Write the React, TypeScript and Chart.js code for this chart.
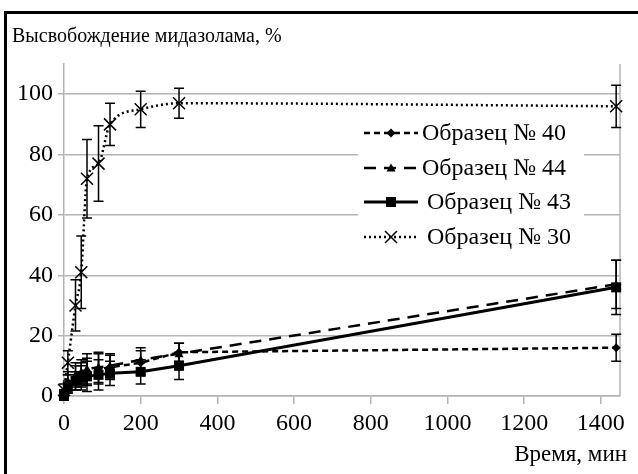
import React, { useEffect, useRef } from 'react';
import { Chart, registerables } from 'chart.js';

Chart.register(...registerables);

const times = [0, 10, 30, 45, 60, 90, 120, 200, 300, 1440];

const s40 = [1, 4, 6, 7, 8, 9, 9.5, 11, 14.5, 16];
const e40 = [1, 3, 4, 4, 4.5, 5, 4, 4, 3, 4.5];
const s44 = [1, 5, 7, 8, 9, 9.5, 10, 12, 14, 37];
const e44 = [1, 3, 4, 4, 5, 5, 4, 4, 3.5, 8];
const s43 = [0, 3, 5, 6, 6.5, 7, 7.5, 8, 10, 36];
const e43 = [1, 2, 3, 4, 5, 5, 4, 4, 4.5, 9];
const s30 = [2, 11, 30, 41, 72, 77, 90, 95, 97, 96];
const e30 = [2, 4, 8.5, 12, 13, 12.5, 7, 6, 5, 7];

const seriesNames = ['Образец № 40', 'Образец № 44', 'Образец № 43', 'Образец № 30'];
const titleText = 'Высвобождение мидазолама, %';
const xTitleText = 'Время, мин';
const xTickValues = [0, 200, 400, 600, 800, 1000, 1200, 1400];

const SERIF = "'Liberation Serif', 'Times New Roman', serif";

type Marker = 'diamond' | 'triangle' | 'square' | 'crossRot';

function drawMarker(ctx: CanvasRenderingContext2D, m: Marker, x: number, y: number, r: number) {
  ctx.save();
  ctx.fillStyle = '#000';
  ctx.strokeStyle = '#000';
  ctx.setLineDash([]);
  ctx.beginPath();
  if (m === 'diamond') {
    ctx.moveTo(x, y - r);
    ctx.lineTo(x + r, y);
    ctx.lineTo(x, y + r);
    ctx.lineTo(x - r, y);
    ctx.closePath();
    ctx.fill();
  } else if (m === 'triangle') {
    ctx.moveTo(x, y - r);
    ctx.lineTo(x + r, y + r * 0.8);
    ctx.lineTo(x - r, y + r * 0.8);
    ctx.closePath();
    ctx.fill();
  } else if (m === 'square') {
    ctx.rect(x - r, y - r, 2 * r, 2 * r);
    ctx.fill();
  } else {
    ctx.lineWidth = 1.5;
    ctx.moveTo(x - r, y - r);
    ctx.lineTo(x + r, y + r);
    ctx.moveTo(x + r, y - r);
    ctx.lineTo(x - r, y + r);
    ctx.stroke();
  }
  ctx.restore();
}

const styles: { marker: Marker; r: number; dash: number[]; width: number }[] = [
  { marker: 'diamond', r: 4.5, dash: [6, 4], width: 2.5 },
  { marker: 'triangle', r: 4.5, dash: [12, 8], width: 2.5 },
  { marker: 'square', r: 5, dash: [], width: 3 },
  { marker: 'crossRot', r: 6, dash: [2, 3], width: 2.5 },
];

const errors = [e40, e44, e43, e30];

export default function App() {
  const ref = useRef<HTMLCanvasElement | null>(null);

  useEffect(() => {
    if (!ref.current) return;

    const customPlugin = {
      id: 'custom',
      beforeDraw(chart: any) {
        const ctx = chart.ctx as CanvasRenderingContext2D;
        ctx.save();
        ctx.fillStyle = '#fff';
        ctx.fillRect(0, 0, chart.width, chart.height);
        ctx.restore();
      },
      afterDatasetsDraw(chart: any) {
        const ctx = chart.ctx as CanvasRenderingContext2D;
        const yScale = chart.scales.y;
        const area = chart.chartArea;
        ctx.save();
        ctx.strokeStyle = '#b4b4b4';
        ctx.lineWidth = 1.5;
        ctx.beginPath();
        ctx.moveTo(area.right, area.top);
        ctx.lineTo(area.right, area.bottom);
        ctx.stroke();
        ctx.restore();

        chart.data.datasets.forEach((ds: any, i: number) => {
          const meta = chart.getDatasetMeta(i);
          const err = errors[i];
          const st = styles[i];
          meta.data.forEach((el: any, j: number) => {
            const v = ds.data[j].y;
            const yt = yScale.getPixelForValue(v + err[j]);
            const yb = yScale.getPixelForValue(Math.max(0, v - err[j]));
            ctx.save();
            ctx.strokeStyle = '#000';
            ctx.lineWidth = 1.5;
            ctx.setLineDash([]);
            ctx.beginPath();
            ctx.moveTo(el.x, yt);
            ctx.lineTo(el.x, yb);
            ctx.moveTo(el.x - 5, yt);
            ctx.lineTo(el.x + 5, yt);
            ctx.moveTo(el.x - 5, yb);
            ctx.lineTo(el.x + 5, yb);
            ctx.stroke();
            ctx.restore();
            drawMarker(ctx, st.marker, el.x, el.y, st.r);
          });
        });

        const lx = 358, ly = 118, lw = 226, lh = 134;
        ctx.save();
        ctx.fillStyle = '#fff';
        ctx.fillRect(lx, ly, lw, lh);
        const rows = [133, 168, 202, 237];
        seriesNames.forEach((name, i) => {
          const st = styles[i];
          const y = rows[i];
          ctx.save();
          ctx.strokeStyle = '#000';
          ctx.lineWidth = st.width;
          ctx.setLineDash(st.dash);
          ctx.beginPath();
          ctx.moveTo(364, y);
          ctx.lineTo(418, y);
          ctx.stroke();
          ctx.restore();
          drawMarker(ctx, st.marker, 391, y, st.r);
          ctx.fillStyle = '#000';
          ctx.font = `24px ${SERIF}`;
          ctx.textBaseline = 'middle';
          ctx.textAlign = 'left';
          ctx.fillText(name, i >= 2 ? 427 : 422, y + 1);
        });
        ctx.restore();
      },
      afterDraw(chart: any) {
        const ctx = chart.ctx as CanvasRenderingContext2D;
        ctx.save();
        ctx.fillStyle = '#000';
        ctx.font = `20px ${SERIF}`;
        ctx.textBaseline = 'alphabetic';
        ctx.textAlign = 'left';
        ctx.fillText(titleText, 12, 42);
        ctx.font = `23px ${SERIF}`;
        ctx.textAlign = 'right';
        ctx.fillText(xTitleText, 627, 461);
        ctx.strokeStyle = '#000';
        ctx.lineWidth = 3;
        ctx.beginPath();
        ctx.moveTo(5.5, 480);
        ctx.lineTo(5.5, 12.5);
        ctx.lineTo(645, 12.5);
        ctx.stroke();
        ctx.restore();
      },
    };

    const mk = (vals: number[]) => vals.map((v, i) => ({ x: times[i], y: v }));

    const chart = new Chart(ref.current, {
      type: 'line',
      data: {
        datasets: [s40, s44, s43, s30].map((vals, i) => ({
          label: seriesNames[i],
          data: mk(vals),
          borderColor: '#000',
          backgroundColor: '#000',
          borderWidth: styles[i].width,
          borderDash: styles[i].dash,
          pointRadius: 0,
          fill: false,
          tension: i === 3 ? 0.4 : 0,
          cubicInterpolationMode: i === 3 ? 'monotone' : 'default',
        })) as any,
      },
      plugins: [customPlugin],
      options: {
        responsive: false,
        animation: false,
        events: [],
        layout: { padding: { top: 64, right: 18, left: 0, bottom: 0 } },
        plugins: {
          legend: { display: false },
          tooltip: { enabled: false },
          title: { display: false },
        },
        scales: {
          x: {
            type: 'linear',
            min: 0,
            max: 1450,
            afterBuildTicks: (scale: any) => {
              scale.ticks = xTickValues.map((v) => ({ value: v }));
            },
            afterFit: (scale: any) => {
              scale.height = 78;
            },
            grid: {
              drawOnChartArea: false,
              drawTicks: true,
              tickLength: 8,
              color: '#b4b4b4',
              lineWidth: 1.5,
            },
            border: { display: true, color: '#b4b4b4', width: 1.5 },
            ticks: {
              color: '#000',
              font: { family: SERIF, size: 24 },
              padding: 5,
              maxRotation: 0,
              autoSkip: false,
              callback: (v: any) => String(v),
            },
          },
          y: {
            type: 'linear',
            min: 0,
            max: 110,
            afterFit: (scale: any) => {
              scale.width = 64;
            },
            grid: {
              color: '#b4b4b4',
              lineWidth: 1.5,
              tickLength: 6,
            },
            border: { display: true, color: '#b4b4b4', width: 1.5 },
            ticks: {
              stepSize: 10,
              color: '#000',
              font: { family: SERIF, size: 24 },
              padding: 5,
              callback: (v: any) => (v % 20 === 0 && v <= 100 ? String(v) : ''),
            },
          },
        },
      },
    });

    return () => chart.destroy();
  }, []);

  return (
    <div style={{ position: 'absolute', left: 0, top: 0, width: 638, height: 474, background: '#fff' }}>
      <canvas ref={ref} width={638} height={474} style={{ display: 'block', width: 638, height: 474 }} />
    </div>
  );
}
